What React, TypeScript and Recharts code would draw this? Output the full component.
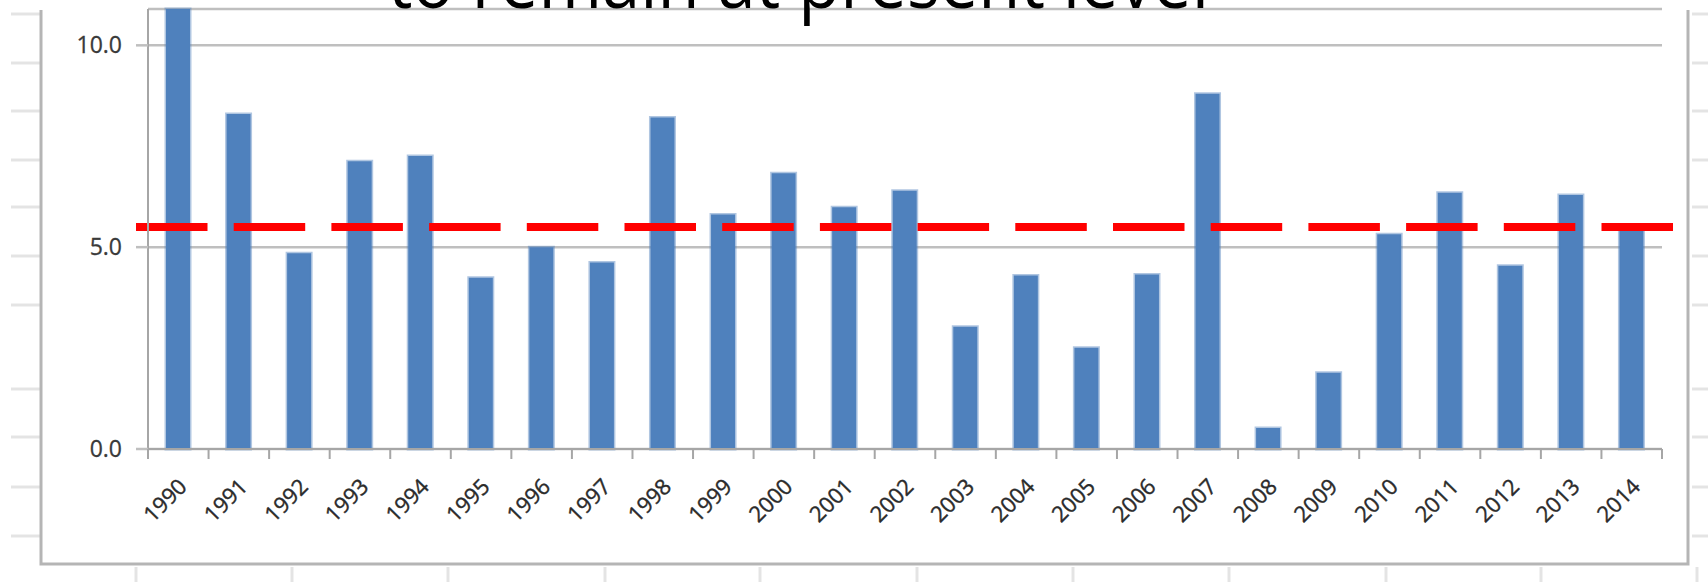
import React from 'react';
import { BarChart, Bar, XAxis, YAxis, CartesianGrid, ReferenceLine } from 'recharts';

const years = [
  '1990', '1991', '1992', '1993', '1994', '1995', '1996', '1997', '1998', '1999',
  '2000', '2001', '2002', '2003', '2004', '2005', '2006', '2007', '2008', '2009',
  '2010', '2011', '2012', '2013', '2014',
];
const values = [
  10.9, 8.3, 4.85, 7.13, 7.26, 4.24, 5.0, 4.62, 8.21, 5.81,
  6.83, 5.99, 6.4, 3.03, 4.3, 2.51, 4.32, 8.8, 0.52, 1.89,
  5.32, 6.35, 4.54, 6.29, 5.45,
];
const presentLevel = 5.5;
const yTicks = [0, 5, 10];
const title = 'to remain at present level';

// faint tick marks of the slide behind the chart
const sideMarks = [14, 63, 111, 160, 207, 256, 305, 389, 437, 487, 536];
const bottomMarks = [136, 292, 448, 605, 760, 917, 1073, 1229, 1386, 1541, 1697];

const data = years.map((year, i) => ({ year, value: values[i] }));

const labelFont = '"Open Sans", "Liberation Sans", sans-serif';

function YearTick(props: any) {
  const { x, y, payload, index, visibleTicksCount } = props;
  const half = payload.offset ?? 30.3;
  const tx = x + 10;
  const ty = y + 39;
  return (
    <g>
      <line x1={x - half} y1={y} x2={x - half} y2={y + 10} stroke="#a6a6a6" strokeWidth={2} />
      {index === visibleTicksCount - 1 && (
        <line x1={x + half} y1={y} x2={x + half} y2={y + 10} stroke="#a6a6a6" strokeWidth={2} />
      )}
      <text
        x={tx}
        y={ty}
        transform={`rotate(-45 ${tx} ${ty})`}
        textAnchor="end"
        fontSize={22}
        fontFamily={labelFont}
        fill="#2b2b2b"
        stroke="#2b2b2b"
        strokeWidth={0.4}
      >
        {payload.value}
      </text>
    </g>
  );
}

function DashedLevel(props: any) {
  const { x1, y1, x2, y2 } = props;
  return (
    <line
      x1={x1 - 12}
      y1={y1}
      x2={x2 + 11}
      y2={y2}
      stroke="#ff0000"
      strokeWidth={8}
      strokeDasharray="71.5 26.2"
    />
  );
}

export default function App() {
  return (
    <div
      style={{
        position: 'absolute',
        left: 0,
        top: 0,
        width: 1708,
        height: 582,
        background: '#fff',
        overflow: 'hidden',
      }}
    >
      <svg width={1708} height={582} style={{ position: 'absolute', left: 0, top: 0 }}>
        {sideMarks.map((y) => (
          <g key={y}>
            <line x1={11} y1={y} x2={40} y2={y} stroke="#e4e4e4" strokeWidth={3} />
            <line x1={1692} y1={y} x2={1708} y2={y} stroke="#e4e4e4" strokeWidth={3} />
          </g>
        ))}
        {bottomMarks.map((x) => (
          <line key={x} x1={x} y1={567} x2={x} y2={582} stroke="#e4e4e4" strokeWidth={3} />
        ))}
        <polyline
          points="41,10 41,564 1688,564 1688,10"
          fill="none"
          stroke="#b5b5b5"
          strokeWidth={3}
        />
      </svg>
      <div style={{ position: 'absolute', left: 0, top: 0 }}>
        <BarChart
          width={1708}
          height={582}
          data={data}
          margin={{ top: 9, right: 46, bottom: 0, left: 0 }}
          barCategoryGap={0}
        >
          <CartesianGrid horizontal vertical={false} stroke="#bfbfbf" strokeWidth={2.5} />
          <XAxis
            dataKey="year"
            height={133}
            interval={0}
            tickSize={0}
            tickMargin={0}
            tickLine={false}
            axisLine={{ stroke: '#a6a6a6', strokeWidth: 2 }}
            tick={<YearTick />}
          />
          <YAxis
            width={148}
            domain={[0, 10.9]}
            ticks={yTicks}
            tickFormatter={(v: number) => v.toFixed(1)}
            tickSize={12}
            tickMargin={14}
            tickLine={{ stroke: '#bfbfbf', strokeWidth: 2.5 }}
            axisLine={{ stroke: '#a6a6a6', strokeWidth: 2 }}
            tick={{ fontSize: 23, fontFamily: labelFont, fill: '#3a3a3a', stroke: '#3a3a3a', strokeWidth: 0.3 }}
          />
          <Bar
            dataKey="value"
            barSize={24}
            fill="#4f81bd"
            stroke="rgba(79,129,189,0.45)"
            strokeWidth={3}
            isAnimationActive={false}
          />
          <ReferenceLine y={presentLevel} shape={DashedLevel} />
        </BarChart>
      </div>
      <svg width={1708} height={582} style={{ position: 'absolute', left: 0, top: 0, pointerEvents: 'none' }}>
        <text
          x={388}
          y={8}
          fontSize={75}
          fontFamily='"Open Sans", sans-serif'
          fill="#000"
          textLength={821}
          lengthAdjust="spacingAndGlyphs"
        >
          {title}
        </text>
      </svg>
    </div>
  );
}
